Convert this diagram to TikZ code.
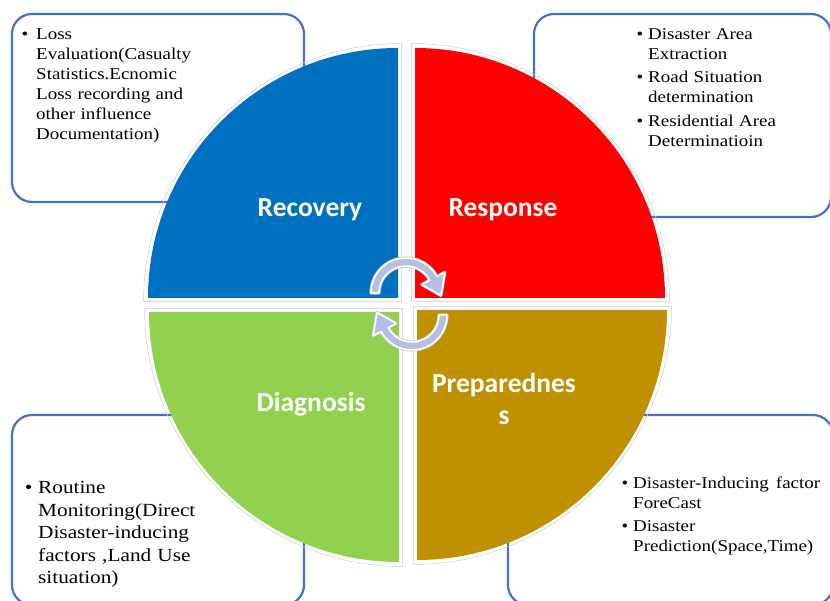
\documentclass[tikz,border=0pt]{standalone}
\usepackage{fontspec}
\setmainfont{Liberation Serif}[FakeStretch=1.15]
\newfontfamily\labelfont{Carlito}
\usepackage{enumitem}
\setlist[itemize]{label=\textbullet,itemsep=3.5pt,topsep=0pt,parsep=0pt,partopsep=0pt}
\definecolor{recblue}{RGB}{0,112,192}
\definecolor{resred}{RGB}{255,0,0}
\definecolor{diagreen}{RGB}{146,208,80}
\definecolor{prepgold}{RGB}{191,144,0}
\definecolor{boxblue}{RGB}{68,114,196}
\definecolor{cyclefill}{RGB}{180,191,226}
\begin{document}
\begin{tikzpicture}[x=1pt,y=1pt,
  infobox/.style={draw=boxblue,line width=2.2pt,rounded corners=20pt,fill=white},
  quadlabel/.style={text=white,font=\labelfont\bfseries\fontsize{27.5}{32}\selectfont,align=center,anchor=base},
  infotext/.style={anchor=north west,inner sep=0pt,align=left,text width=#1},
  ]
\useasboundingbox (0,0) rectangle (830,601);

% boxes behind the circle
\draw[infobox] (12,587) rectangle (304,399);
\draw[infobox] (534,587) rectangle (831,384);
\draw[infobox] (12,186) rectangle (304,-4);
\draw[infobox] (508,186) rectangle (833,-4);

% quadrants
\foreach \cx/\cy/\a/\col in {398/303/90/recblue,415/303/0/resred,399/289/180/diagreen,417/291/270/prepgold}{
  \draw[gray!40,line width=0.5pt] (\cx,\cy) ++(\a-135:5) -- ++(\a:258) arc[start angle=\a,delta angle=90,radius=258] -- cycle;
  \fill[\col] (\cx,\cy) -- ++(\a:250) arc[start angle=\a,delta angle=90,radius=250] -- cycle;
}

% cycle arrows
\foreach \cx/\cy/\rot in {406/308/0,412/286/180}{
  \begin{scope}[shift={(\cx,\cy)},rotate=\rot]
  \filldraw[fill=cyclefill,draw=white,line width=1.5pt,line join=round,
    preaction={draw=gray!40,line width=3.2pt,line join=round}]
    (180:35) arc[start angle=180,end angle=28,radius=35] -- (28:44) -- (-4:35)
    -- (28:18) -- (28:27) arc[start angle=28,end angle=180,radius=27] -- cycle;
  \end{scope}
}

\node[quadlabel] (recovery) at (310,384) {Recovery};
\node[quadlabel] (response) at (503,384) {Response};
\node[quadlabel] (diagnosis) at (311,189) {Diagnosis};
\node[quadlabel] (preparedness) at (504,176) {Preparednes\\s};

\node[infotext=200pt,font=\fontsize{16.5}{20}\selectfont] (recoverytext) at (20,582) {%
\begin{itemize}[leftmargin=16pt,labelsep=8pt]
\item Loss\\ Evaluation(Casualty\\ Statistics.Ecnomic\\ Loss recording and\\ other influence\\ Documentation)
\end{itemize}};
\node[infotext=190pt,font=\fontsize{16.5}{20}\selectfont] (responsetext) at (636,582) {%
\begin{itemize}[leftmargin=12pt,labelsep=5pt]
\item Disaster Area\\ Extraction
\item Road Situation\\ determination
\item Residential Area\\ Determinatioin
\end{itemize}};
\node[infotext=200pt,font=\fontsize{18.5}{22.5}\selectfont] (diagnosistext) at (25,130) {%
\begin{itemize}[leftmargin=13pt,labelsep=6pt]
\item Routine\\ Monitoring(Direct\\ Disaster-inducing\\ factors ,Land Use\\ situation)
\end{itemize}};
\node[infotext=199pt,font=\fontsize{16.5}{20}\selectfont] (preparednesstext) at (621,133) {%
\begin{itemize}[leftmargin=12pt,labelsep=5pt]
\item Disaster-Inducing\hfill factor\\ ForeCast
\item Disaster\\ Prediction(Space,Time)
\end{itemize}};

\end{tikzpicture}
\end{document}
